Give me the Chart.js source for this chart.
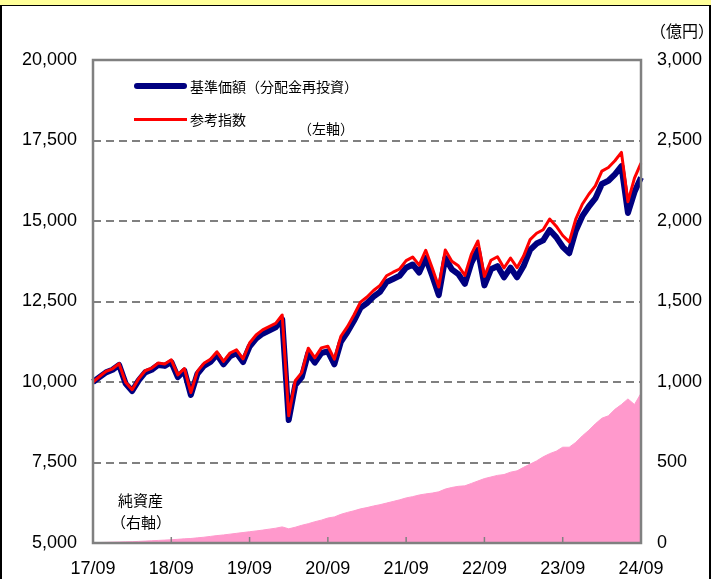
<!DOCTYPE html>
<html>
<head>
<meta charset="utf-8">
<script src="https://cdn.jsdelivr.net/npm/chart.js@4.4.1/dist/chart.umd.min.js"></script>
<style>
  html, body { margin: 0; padding: 0; background: #fff; }
  #page { position: relative; width: 711px; height: 579px; overflow: hidden; }
  #band { position: absolute; left: 0; top: 0; width: 711px; height: 5px; background: #FFFF99; border-bottom: 1.5px solid #000; }
  #edgeL { position: absolute; left: 0; top: 5px; width: 1.5px; height: 574px; background: #000; }
  #edgeR { position: absolute; left: 709px; top: 5px; width: 1.5px; height: 574px; background: #000; }
  #wrap { position: absolute; left: 0; top: 0; width: 711px; height: 579px; }
  .t { position: absolute; font-family: "Noto Sans CJK JP", sans-serif; color: #000; white-space: nowrap; line-height: 1; }
  .key { position: absolute; left: 134px; width: 53px; }
</style>
</head>
<body>
<div id="page">
  <div id="band"></div>
  <div id="edgeL"></div>
  <div id="edgeR"></div>
  <div id="wrap"><canvas id="myChart"></canvas></div>
  <div class="t" style="left:650px; top:22px; font-size:16px;">（億円）</div>
  <div class="key" style="top:83px; height:6px; background:#000080; border-radius:3px;"></div>
  <div class="t" style="left:190px; top:79px; font-size:14px;">基準価額（分配金再投資）</div>
  <div class="key" style="top:118px; height:3px; background:#FF0000;"></div>
  <div class="t" style="left:190px; top:112px; font-size:14px;">参考指数</div>
  <div class="t" style="left:298px; top:121px; font-size:14px;">（左軸）</div>
  <div class="t" style="left:118px; top:492px; font-size:15px;">純資産</div>
  <div class="t" style="left:111px; top:514px; font-size:15px;">（右軸）</div>
</div>
<script>
// monthly, 2017/09 .. 2024/09
const months = [];
for (let y = 2017; y <= 2024; y++) {
    for (let m = 1; m <= 12; m++) {
        if ((y === 2017 && m < 9) || (y === 2024 && m > 9)) continue;
        months.push(y + "/" + String(m).padStart(2, "0"));
    }
}

// 基準価額（分配金再投資） 左軸
const fundNav = [
    10000, 10150, 10300, 10380, 10530, 9950, 9720, 10050, 10300, 10380, 10530, 10500,
    10620, 10150, 10350, 9600, 10250, 10500, 10620, 10850, 10550, 10800, 10900, 10620,
    11100, 11350, 11500, 11600, 11700, 11950, 8820, 9900, 10150, 10900, 10600, 10900,
    10950, 10550, 11250, 11550, 11900, 12300, 12450, 12650, 12800, 13100, 13200, 13300,
    13550, 13650, 13400, 13850, 13300, 12700, 13850, 13500, 13350, 13050, 13700, 14100,
    13000, 13500, 13600, 13250, 13550, 13250, 13600, 14100, 14300, 14400, 14720, 14500,
    14200, 14000, 14700, 15150, 15450, 15700, 16150, 16250, 16450, 16700, 15250, 15900,
    16350
];

// 参考指数 左軸
const benchmark = [
    10000, 10170, 10330, 10410, 10570, 9990, 9760, 10100, 10350, 10430, 10590, 10560,
    10690, 10220, 10420, 9670, 10330, 10580, 10710, 10940, 10640, 10900, 11000, 10720,
    11210, 11460, 11620, 11720, 11820, 12080, 8950, 10040, 10290, 11050, 10750, 11060,
    11110, 10710, 11420, 11720, 12080, 12480, 12640, 12840, 13000, 13300, 13410, 13510,
    13770, 13880, 13630, 14090, 13540, 12950, 14100, 13750, 13610, 13310, 13970, 14380,
    13280, 13780, 13890, 13540, 13850, 13550, 13910, 14420, 14620, 14730, 15060, 14840,
    14550, 14350, 15060, 15520, 15830, 16090, 16550, 16660, 16870, 17130, 15600, 16330,
    16800
];

// 純資産（億円） 右軸
const netAssets = [
    2, 3, 4, 5, 6, 7, 8, 10, 12, 14, 16, 18,
    20, 23, 26, 28, 32, 36, 41, 46, 50, 55, 60, 65,
    70, 75, 80, 86, 92, 100, 88, 98, 110, 120, 132, 142,
    155, 162, 178, 190, 200, 212, 220, 230, 238, 248, 258, 268,
    280, 288, 298, 305, 310, 318, 335, 345, 352, 355, 370, 385,
    400, 410, 420, 425, 440, 448, 470, 490, 510, 535, 555, 570,
    595, 595, 625, 665, 700, 740, 775, 790, 830, 860, 895, 860,
    930
];

const leftTicks = [5000, 20000, 2500];
const rightTicks = [0, 3000, 500];

const framePlugin = {
    id: 'frame',
    afterDatasetsDraw(chart) {
        const { ctx, chartArea: a } = chart;
        const x = chart.scales.x;
        ctx.save();
        ctx.strokeStyle = '#808080';
        ctx.lineWidth = 2.5;
        ctx.strokeRect(a.left, a.top, a.right - a.left, a.bottom - a.top);
        ctx.lineWidth = 1.5;
        ctx.beginPath();
        for (let i = 12; i < months.length - 1; i += 12) {
            const px = x.getPixelForValue(i);
            ctx.moveTo(px, a.bottom);
            ctx.lineTo(px, a.bottom - 6);
        }
        ctx.stroke();
        ctx.restore();
    }
};

const ctx = document.getElementById("myChart").getContext("2d");

new Chart(ctx, {
    type: 'line',
    data: {
        labels: months,
        datasets: [{
            label: '参考指数',
            data: benchmark,
            borderColor: '#FF0000',
            borderWidth: 3,
            borderJoinStyle: 'round',
            pointRadius: 0,
            tension: 0,
            yAxisID: 'y',
            order: 1
        }, {
            label: '基準価額（分配金再投資）',
            data: fundNav,
            borderColor: '#000080',
            borderWidth: 6,
            borderJoinStyle: 'round',
            pointRadius: 0,
            tension: 0,
            yAxisID: 'y',
            order: 2
        }, {
            label: '純資産',
            data: netAssets,
            borderColor: '#FF99CC',
            borderWidth: 1,
            backgroundColor: '#FF99CC',
            fill: 'origin',
            pointRadius: 0,
            tension: 0,
            yAxisID: 'y2',
            order: 3
        }]
    },
    options: {
        responsive: true,
        maintainAspectRatio: false,
        animation: false,
        layout: { padding: { top: 60, left: 0, right: 0, bottom: 0 } },
        plugins: {
            legend: { display: false },
            tooltip: { enabled: false }
        },
        scales: {
            x: {
                offset: false,
                afterFit: s => { s.height = 36; },
                grid: { display: false },
                border: { display: false },
                ticks: {
                    autoSkip: false,
                    maxRotation: 0,
                    padding: 7,
                    color: '#000',
                    font: { family: 'Liberation Sans', size: 18 },
                    callback: function (value, index) {
                        if (index % 12 !== 0) return '';
                        return months[index].slice(2);
                    }
                }
            },
            y: {
                position: 'left',
                min: leftTicks[0],
                max: leftTicks[1],
                afterFit: s => { s.width = 93; },
                grid: {
                    drawTicks: false,
                    lineWidth: 2,
                    color: c => (c.tick && (c.tick.value === leftTicks[0] || c.tick.value === leftTicks[1])) ? 'rgba(0,0,0,0)' : '#808080'
                },
                border: { display: false, dash: [8, 5] },
                ticks: {
                    stepSize: leftTicks[2],
                    padding: 16,
                    color: '#000',
                    font: { family: 'Liberation Sans', size: 18 },
                    callback: v => v.toLocaleString('en-US')
                }
            },
            y2: {
                position: 'right',
                min: rightTicks[0],
                max: rightTicks[1],
                afterFit: s => { s.width = 70; },
                grid: { display: false, drawTicks: false },
                border: { display: false },
                ticks: {
                    stepSize: rightTicks[2],
                    padding: 16,
                    color: '#000',
                    font: { family: 'Liberation Sans', size: 18 },
                    callback: v => v.toLocaleString('en-US')
                }
            }
        }
    },
    plugins: [framePlugin]
});
</script>
</body>
</html>
